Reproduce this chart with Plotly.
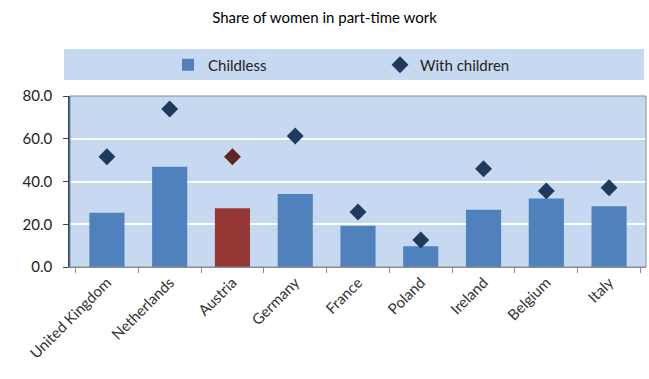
import plotly.graph_objects as go

countries = ["United Kingdom", "Netherlands", "Austria", "Germany", "France",
             "Poland", "Ireland", "Belgium", "Italy"]
childless = [25.4, 46.9, 27.5, 34.2, 19.3, 9.7, 26.8, 32.0, 28.4]
with_children = [51.6, 73.9, 51.6, 61.3, 25.7, 12.6, 46.0, 35.6, 37.1]
highlight = "Austria"
y_ticks = [0, 20, 40, 60, 80]

bar_colors = ["#953735" if c == highlight else "#4F81BD" for c in countries]
dia_colors = ["#632523" if c == highlight else "#1F3A5F" for c in countries]

FONT = "Lato, 'Open Sans', sans-serif"

fig = go.Figure()
fig.add_trace(go.Bar(
    x=countries, y=childless, name="Childless",
    marker=dict(color=bar_colors, line=dict(width=0)),
    width=0.56,
))
fig.add_trace(go.Scatter(
    x=countries, y=with_children, name="With children", mode="markers",
    marker=dict(symbol="diamond", size=13, color=dia_colors),
))

fig.update_layout(
    width=649, height=379,
    margin=dict(l=70, r=3, t=96, b=112),
    paper_bgcolor="white",
    plot_bgcolor="#C6D9F1",
    font=dict(family=FONT, size=14, color="#222222"),
    title=dict(text="Share of women in part-time work", x=0.5, xanchor="center",
               y=1 - 18 / 379, yanchor="middle",
               font=dict(family=FONT, size=15, color="black")),
    showlegend=True,
    legend=dict(orientation="h", x=98 / 576, xanchor="left", y=1 + 31 / 171,
                yanchor="middle", bgcolor="rgba(0,0,0,0)",
                entrywidth=167, entrywidthmode="pixels",
                font=dict(family=FONT, size=15, color="#222222")),
    bargap=0.44,
    shapes=[
        dict(type="rect", xref="paper", yref="paper",
             x0=-6 / 576, x1=574 / 576, y0=1 + 16 / 171, y1=1 + 47 / 171,
             fillcolor="#C6D9F1", line=dict(width=0), layer="below"),
        dict(type="rect", xref="paper", yref="paper", x0=0, x1=1, y0=0, y1=1,
             line=dict(color="#8C8C8C", width=1), fillcolor="rgba(0,0,0,0)",
             layer="above"),
    ],
)
fig.update_xaxes(
    tickangle=-45, tickson="boundaries", ticks="outside", ticklen=5,
    tickcolor="#8C8C8C", showline=True, linecolor="#8C8C8C", linewidth=1,
    showgrid=False, tickfont=dict(family=FONT, size=15, color="#333333"),
)
fig.update_yaxes(
    range=[0, 80], tickvals=y_ticks, tickformat=".1f", ticks="outside",
    ticklen=5, tickcolor="#2C4A6E", showline=True, linecolor="#2C4A6E",
    linewidth=1.5, showgrid=True, gridcolor="white", gridwidth=2,
    zeroline=False, ticklabelstandoff=8,
    tickfont=dict(family=FONT, size=15, color="#222222"),
)

fig.write_html("out.html")
